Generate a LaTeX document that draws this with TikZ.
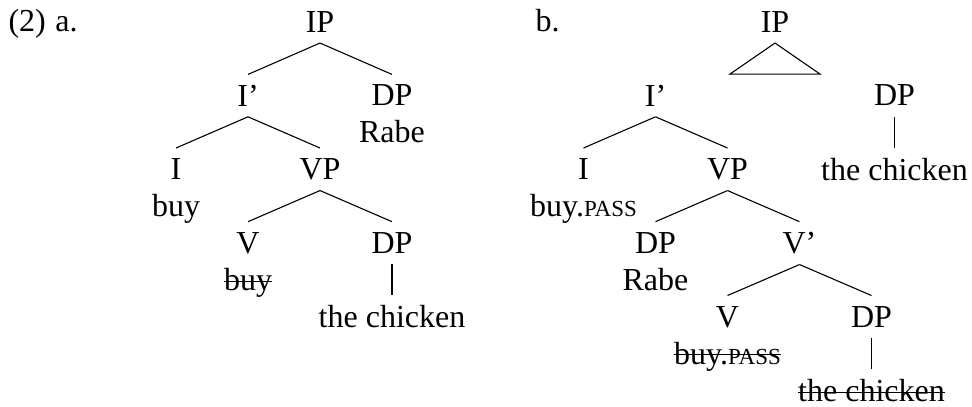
\documentclass[tikz,border=0pt]{standalone}
\usepackage{fontspec}
\setmainfont{Liberation Serif}
\newcommand{\pass}{{\fontsize{11.5}{12}\selectfont PASS}}
\newcommand{\strike}[1]{\leavevmode\setbox0=\hbox{#1}\rlap{\rule[0.27em]{\wd0}{0.5pt}}\box0}

\begin{document}
\begin{tikzpicture}[
        x=1pt,y=1pt,
        line width=0.55pt,
        font=\fontsize{16}{18.5}\selectfont,
        level distance=26.2pt,
        level/.style={sibling distance=72pt},
        every node/.style={anchor=north,align=center,inner xsep=1pt,inner ysep=5pt},
        edge from parent path={(\tikzparentnode.south) -- (\tikzchildnode.north)},
        exlabel/.style={anchor=base west,inner sep=0pt},
        ]
    \useasboundingbox (0,0) rectangle (486,-203);
    \node[exlabel] (exa) at (4,-16) {(2)\hspace{0.3em}a.};
    \node[exlabel] (exb) at (267.5,-16) {b.};
    % tree a
    \node (ipa) at (160,-0.5) {IP}
    child {
        node (ibara) {I'}
        child {
            node (ia) {I\\buy}
        }
        child {
            node (vpa) {VP}
            child {
                node (va) {V\\\strike{buy}}
            }
            child {
                node (dpa) {DP}
                child {
                    node (cha) {the chicken}
                }
            }
        }
    }
    child {
        node (subja) {DP\\Rabe}
    }
  ; % end of tree a
    % tree b
    \node (ipb) at (387.5,-0.5) {IP}
    child[sibling distance=119.5pt] {
        node (ibarb) {I'}
        child {
            node (ib) {I\\buy.\pass}
        }
        child {
            node (vpb) {VP}
            child {
                node (subjb) {DP\\Rabe}
            }
            child {
                node (vbarb) {V'}
                child {
                    node (vb) {V\\\strike{buy.\pass}}
                }
                child {
                    node (dpb) {DP}
                    child {
                        node (chb) {\strike{the chicken}}
                    }
                }
            }
        }
        edge from parent[draw=none]
    }
    child[sibling distance=119.5pt] {
        node (topb) {DP}
        child {
            node (chtopb) {the chicken}
        }
        edge from parent[draw=none]
    }
  ; % end of tree b
    \draw (ipb.south) -- ++(-22.5,-15.5) -- ++(45,0) -- cycle;
\end{tikzpicture}
\end{document}
